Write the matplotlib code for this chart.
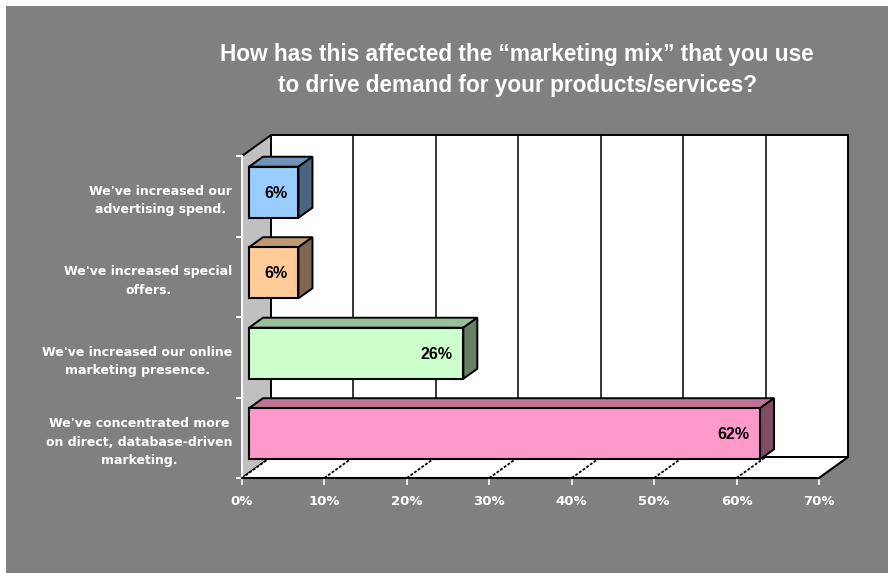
import matplotlib
matplotlib.use('Agg')
import matplotlib.pyplot as plt
from matplotlib.patches import Polygon, Rectangle

plt.rcParams['font.family'] = ['Liberation Sans', 'DejaVu Sans']

categories = [
    "We've increased our\nadvertising spend.",
    "We've increased special\noffers.",
    "We've increased our online\nmarketing presence.",
    "We've concentrated more\non direct, database-driven\nmarketing.",
]
values = [6, 6, 26, 62]
front_colors = ['#99CCFF', '#FFCC99', '#CCFFCC', '#FF99CC']
top_colors = ['#6F94B9', '#BF9973', '#99BF99', '#BF7399']
side_colors = ['#4D6680', '#806650', '#668066', '#804D66']
x_ticks = [0, 10, 20, 30, 40, 50, 60, 70]
title = ("How has this affected the \u201cmarketing mix\u201d that you use\n"
         "to drive demand for your products/services?")

W, H = 888, 573
fig = plt.figure(figsize=(W / 100, H / 100), dpi=100, facecolor='white')
fig.add_artist(Rectangle((6 / W, 0), 1, 1 - 6 / H, transform=fig.transFigure,
                         fc='#808080', ec='none', zorder=-5))

# axes box is the front edge of the 3d plot
ax = fig.add_axes([242 / W, 1 - 478 / H, 577 / W, 322 / H])
ax.set_facecolor('none')
ax.set_xlim(0, 70)
ax.set_ylim(4, 0)

# wall depth and bar offsets, in data units
dx, dy = 3.52, 0.26
bar_x, bar_y = 0.85, 0.05
bar_dx, bar_dy = 1.7, 0.124
bar_h = 0.634


def poly(pts, fc, z):
    ax.add_patch(Polygon(pts, closed=True, fc=fc, ec='black', lw=1.4, zorder=z,
                         clip_on=False, joinstyle='miter'))


# walls
poly([(0, 0), (dx, -dy), (dx, 4 - dy), (0, 4)], '#C0C0C0', 1)
poly([(dx, -dy), (70 + dx, -dy), (70 + dx, 4 - dy), (dx, 4 - dy)], 'white', 1)
ax.add_patch(Polygon([(0, 4), (dx, 4 - dy), (70 + dx, 4 - dy), (70, 4)], closed=True,
                     fc='white', ec='none', zorder=1.5, clip_on=False))
ax.plot([70, 70 + dx], [4, 4 - dy], color='black', lw=1.5, zorder=2, clip_on=False)
ax.plot([dx, 70 + dx], [4 - dy, 4 - dy], color='black', lw=1.4, zorder=2, clip_on=False)

for t in x_ticks[1:-1]:
    ax.plot([t + dx, t + dx], [-dy, 4 - dy], color='black', lw=1.1, zorder=2, clip_on=False)
for t in x_ticks[:-1]:
    ax.plot([t, t + dx], [4, 4 - dy], color='black', lw=1.3, ls=(0, (1.6, 0.9)),
            zorder=2, clip_on=False)

# bars, front faces through barh and the two visible sides around them
centres = [i + 0.5 - bar_y for i in range(4)]
ax.barh(centres, values, height=bar_h, left=bar_x, color=front_colors,
        edgecolor='black', linewidth=1.5, zorder=5, clip_on=False)
for c, v, tc, sc in zip(centres, values, top_colors, side_colors):
    x0, x1 = bar_x, bar_x + v
    yt, yb = c - bar_h / 2, c + bar_h / 2
    poly([(x0, yt), (x0 + bar_dx, yt - bar_dy), (x1 + bar_dx, yt - bar_dy), (x1, yt)], tc, 4)
    poly([(x1, yt), (x1 + bar_dx, yt - bar_dy), (x1 + bar_dx, yb - bar_dy), (x1, yb)], sc, 4)
    ax.text(v - 0.5, c + 0.01, f'{v}%', ha='right', va='center', fontsize=11.5,
            fontweight='bold', color='black', zorder=6)

# axes
ax.set_xticks(x_ticks)
ax.set_xticklabels([f'{t}%' for t in x_ticks], fontsize=9.5, fontweight='bold', color='white',
                   family='DejaVu Sans')
ax.tick_params(axis='x', color='white', length=5, width=1.2, pad=7)
ax.set_yticks(range(5))
ax.set_yticklabels([])
ax.tick_params(axis='y', which='major', color='white', length=4, width=1.4)
ax.set_yticks([i + 0.5 for i in range(4)], minor=True)
ax.set_yticklabels(categories, minor=True, fontsize=9, fontweight='bold', color='white',
                   family='DejaVu Sans', linespacing=1.55, multialignment='center')
ax.tick_params(axis='y', which='minor', length=0, pad=7)
for side in ['top', 'right']:
    ax.spines[side].set_visible(False)
ax.spines['left'].set_color('white')
ax.spines['left'].set_linewidth(1.4)
ax.spines['left'].set_zorder(3)
ax.spines['bottom'].set_color('black')
ax.spines['bottom'].set_linewidth(1.5)
ax.spines['bottom'].set_zorder(3)

fig.text(517 / W, 1 - 70 / H, title, ha='center', va='center', fontsize=16.3,
         fontweight='bold', color='white', linespacing=1.5)

fig.savefig('out.png', dpi=100, facecolor=fig.get_facecolor())
